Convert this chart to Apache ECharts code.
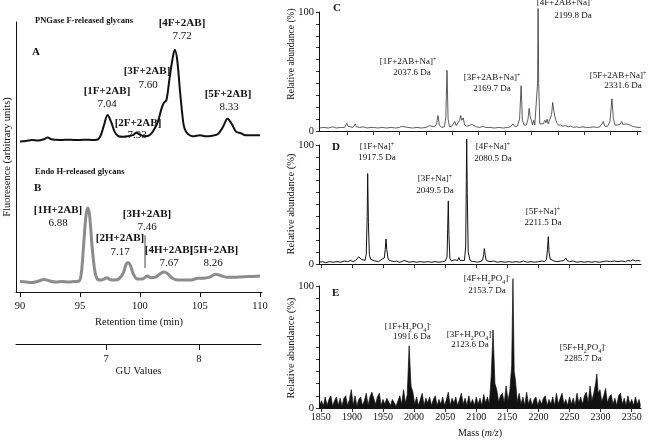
<!DOCTYPE html>
<html><head><meta charset="utf-8">
<script src="https://cdn.jsdelivr.net/npm/echarts@6/dist/echarts.min.js"></script>
<style>html,body{margin:0;padding:0;background:#fff}#c{width:656px;height:442px}</style>
</head><body><div id="c"></div>
<script>
// ---------- Data ----------
// Panel A/B: retention time (min) vs fluorescence (arbitrary units)
const traceA = [[90.0,55.7],[90.5,55.9],[91.0,56.3],[91.5,56.1],[92.0,56.6],[92.3,57.2],[92.6,56.6],[93.0,56.4],[93.5,56.3],[94.0,56.4],[94.5,56.3],[95.0,56.3],[95.5,56.4],[96.0,56.3],[96.4,56.4],[96.7,57.7],[97.0,61.8],[97.3,65.6],[97.6,62.9],[97.9,59.2],[98.2,57.7],[98.6,57.5],[99.0,57.7],[99.4,58.1],[99.7,59.0],[100.0,58.3],[100.4,57.7],[100.8,58.1],[101.1,59.6],[101.5,63.2],[101.8,68.0],[102.0,70.2],[102.2,71.0],[102.45,78.7],[102.7,86.0],[102.9,89.7],[103.1,86.0],[103.3,76.1],[103.5,66.9],[103.7,60.7],[104.0,58.5],[104.4,57.7],[105.0,58.1],[105.5,57.7],[106.0,57.9],[106.5,58.5],[106.9,61.0],[107.3,64.2],[107.7,61.8],[108.0,59.4],[108.4,58.8],[108.8,58.1],[109.3,58.1],[110.0,58.1]];
const traceB = [[90.0,3.9],[90.5,3.7],[91.0,3.5],[91.5,4.0],[92.0,4.6],[92.4,4.2],[93.0,3.7],[93.5,3.9],[94.0,3.7],[94.5,3.9],[94.9,4.0],[95.1,6.6],[95.3,17.3],[95.5,28.3],[95.65,31.1],[95.8,28.3],[96.0,17.3],[96.2,8.8],[96.4,5.1],[96.7,4.4],[97.0,4.8],[97.25,5.3],[97.5,4.6],[97.9,4.4],[98.3,5.1],[98.6,7.0],[98.85,10.3],[99.0,10.8],[99.2,9.9],[99.45,6.6],[99.8,4.8],[100.2,4.8],[100.6,5.9],[100.9,5.3],[101.3,5.5],[101.7,6.8],[102.0,7.4],[102.3,6.8],[102.7,5.1],[103.2,4.4],[103.8,4.4],[104.3,4.4],[104.8,5.1],[105.3,5.1],[105.8,5.5],[106.3,6.6],[106.7,6.1],[107.2,5.5],[108.0,5.5],[109.0,5.7],[110.0,5.9]];
const markerB = [[100.42,8.9],[100.42,21.0]];
const rtTicks = [90,95,100,105,110];
const guTicks = [7,8];

// Panel C/D/E: mass (m/z) vs relative abundance (%)
const specC = [[1810,2.5],[1818,3],[1826,2.5],[1834,3.5],[1840,2.5],[1848,3],[1855,3],[1857,4.5],[1859,6.5],[1861,4],[1864,3],[1870,3],[1872,4.5],[1874,6],[1876,3.5],[1882,3],[1888,3.5],[1895,2.5],[1902,3],[1904,4],[1906,3],[1914,2.5],[1922,3],[1930,2.5],[1938,3],[1946,2.5],[1953,3],[1957,4],[1960,2.5],[1968,3],[1976,2.5],[1984,3],[1992,2.5],[2000,3],[2006,4.5],[2009,3],[2015,3.5],[2019,6],[2021.5,13],[2024,5],[2028,3],[2033,3.5],[2035.5,12],[2037.6,51],[2039.5,10],[2042,3.5],[2046,4],[2049,5.5],[2051.5,8],[2054,4.5],[2057,4],[2060,9],[2062,13],[2064,9],[2066.5,11],[2069,5],[2073,4],[2077,4.5],[2082,5.5],[2085,4],[2090,3.5],[2096,3],[2102,4],[2106,3],[2114,3],[2122,2.5],[2130,3],[2138,2.5],[2146,3],[2151,3.5],[2155,6],[2158,4],[2163,4],[2167,10],[2169.7,38],[2172,9],[2175,5],[2179,5],[2182,10],[2184,19],[2186,12],[2188,9],[2190,5],[2192,9],[2194,5],[2197,6],[2199,40],[2200,103],[2201,40],[2203,6],[2206,5],[2209,6],[2212,9],[2214,7],[2216,10],[2218,6],[2221,7],[2224,14],[2226,24],[2228,17],[2230,12],[2233,7],[2236,5],[2240,5],[2244,4],[2249,4.5],[2254,3.5],[2258,4],[2263,3],[2268,3.5],[2274,3],[2280,3.5],[2286,3],[2292,3],[2298,3.5],[2304,3],[2310,3.5],[2314,6],[2316,8],[2319,4],[2324,4],[2328,8],[2331.6,27],[2334,11],[2337,5],[2341,5],[2346,5.5],[2349,8],[2351,5.5],[2354,5],[2357,6],[2360,7.5],[2362,5.5],[2365,6.5],[2368,4],[2372,3.5],[2378,3],[2383,3]];
const specD = [[1847,1.5],[1853,2],[1858,1],[1864,2],[1870,1.5],[1876,2],[1882,1.5],[1888,2.5],[1893,2],[1898,3],[1902,2],[1906,3],[1909,4],[1911,6],[1913,7.5],[1915,4],[1918,3],[1921,3],[1923,8],[1924.5,40],[1925.3,76],[1926.5,35],[1928,8],[1930,4],[1933,3],[1937,2.5],[1940,3.5],[1943,2],[1946,3],[1948,4],[1950,3],[1952,5],[1953.5,12],[1954.8,21],[1956,12],[1958,5],[1960,3],[1964,2.5],[1968,2],[1972,2.5],[1976,1.5],[1980,2],[1984,3],[1987,2],[1992,1.5],[1998,2],[2004,1.5],[2010,2],[2016,1.5],[2022,2],[2028,1.5],[2034,2],[2040,1.5],[2046,2],[2050,2.5],[2053,6],[2054,30],[2055,53],[2056,25],[2057.5,5],[2060,2.5],[2064,3.5],[2067,2],[2070,3],[2072,5.5],[2074,3],[2077,2],[2081,3],[2083,15],[2084,70],[2084.6,105],[2085.5,60],[2087,10],[2090,3],[2094,2],[2098,2],[2102,1.5],[2106,2],[2110,3],[2112,8],[2113,13],[2114.5,7],[2116,3],[2119,4],[2122,2],[2128,2.5],[2134,1.5],[2140,2],[2143,3],[2146,1.5],[2152,2],[2158,1.5],[2164,2],[2170,1.5],[2176,2.5],[2182,1.5],[2188,2],[2194,1.5],[2200,2],[2206,2.5],[2210,2],[2213,4],[2214.5,12],[2215.9,23],[2217,10],[2219,4],[2222,3],[2225,2.5],[2230,2],[2236,2.5],[2241,3],[2244,5],[2246,3],[2250,2],[2256,2.5],[2262,1.5],[2268,2],[2274,1.5],[2280,2],[2286,1.5],[2292,2],[2298,1.5],[2304,2],[2310,2.5],[2316,2],[2322,2.5],[2328,2],[2334,2.5],[2340,2],[2344,3],[2348,2.5],[2352,3.5],[2356,2.5],[2360,3],[2364,2.5]];
const specE = [[1848,2],[1851,6],[1854,1.5],[1857,9],[1860,2],[1863,7],[1866,10],[1869,1.5],[1872,6],[1875,9],[1878,2],[1881,8],[1884,1.5],[1887,8],[1890,10],[1893,2],[1896,7],[1899,15],[1902,2],[1905,10],[1908,1.5],[1911,7],[1914,9],[1917,2],[1920,6],[1923,12],[1926,2],[1929,9],[1932,13],[1935,14],[1938,3],[1941,9],[1944,12],[1947,2],[1950,7],[1953,3],[1956,8],[1959,9],[1962,2],[1965,7],[1968,8],[1971,1.5],[1974,6],[1977,10],[1980,3],[1983,15],[1986,4],[1989,11],[1992,51],[1995,18],[1998,13],[2001,3],[2004,9],[2007,2],[2010,7],[2013,12],[2016,2],[2019,8],[2022,4],[2025,9],[2028,2],[2031,7],[2034,10],[2037,2],[2040,7],[2043,3],[2046,9],[2049,2],[2052,7],[2055,13],[2058,2],[2061,8],[2064,4],[2067,9],[2070,2],[2073,7],[2076,12],[2079,3],[2082,8],[2085,2],[2088,10],[2091,3],[2094,7],[2097,2],[2100,9],[2103,3],[2106,8],[2109,2],[2112,11],[2115,4],[2118,9],[2121,3],[2124,26],[2127,64],[2130,20],[2133,15],[2136,5],[2139,10],[2142,12],[2145,4],[2148,18],[2151,6],[2154,14],[2157,35],[2159,106],[2161,30],[2163,23],[2166,5],[2169,12],[2172,3],[2175,9],[2178,2],[2181,13],[2184,3],[2187,8],[2190,2],[2193,7],[2196,9],[2199,2],[2202,7],[2205,3],[2208,8],[2211,10],[2214,2],[2217,7],[2220,3],[2223,9],[2226,2],[2229,12],[2232,3],[2235,8],[2238,12],[2241,3],[2244,7],[2247,2],[2250,9],[2253,3],[2256,8],[2259,2],[2262,12],[2265,4],[2268,9],[2271,3],[2274,10],[2277,13],[2280,4],[2283,18],[2286,6],[2289,12],[2292,20],[2294,28],[2296,12],[2299,15],[2302,5],[2305,10],[2308,16],[2311,4],[2314,9],[2317,11],[2320,3],[2323,8],[2326,2],[2329,10],[2332,12],[2335,3],[2338,8],[2341,2],[2344,10],[2347,3],[2350,7],[2353,2],[2356,9],[2359,3],[2362,7],[2364,2]];
const cTicks = [1859,1906,1953,2000,2047,2094,2141,2188,2235,2282,2329,2376];
const massTicks = [1850,1900,1950,2000,2050,2100,2150,2200,2250,2300,2350];

// ---------- Chart ----------
const FF = '"Liberation Serif", "DejaVu Serif", serif';
const chart = echarts.init(document.getElementById('c'), null, {renderer: 'canvas'});
const axisLineBlack = {show: true, lineStyle: {color: '#111', width: 1}};

function rightY(grid) {
  return {
    gridIndex: grid, type: 'value', min: 0, max: 100, interval: 10,
    axisLine: axisLineBlack,
    axisTick: {show: true, length: 3, lineStyle: {color: '#333'}},
    axisLabel: {fontFamily: FF, fontSize: 10.5, color: '#111', margin: 5,
      formatter: v => (v === 0 || v === 100) ? String(v) : ''},
    splitLine: {show: false}
  };
}
function massX(grid, min, max, ticks, labels) {
  return {
    gridIndex: grid, type: 'value', min: min, max: max,
    axisLine: axisLineBlack,
    axisTick: {show: true, length: 4, customValues: ticks, lineStyle: {color: '#333'}},
    axisLabel: labels ? {show: true, customValues: ticks, fontFamily: FF, fontSize: 10, color: '#111', margin: 4,
      formatter: v => String(v)} : {show: false},
    splitLine: {show: false}
  };
}

const T = (text, x, y, opt) => {
  opt = opt || {};
  return {
    type: 'text', silent: true,
    style: {
      text: text, x: x, y: y,
      align: opt.align || 'center', verticalAlign: 'middle',
      fontFamily: FF, fontSize: opt.size || 9, fontWeight: opt.bold ? 'bold' : 'normal',
      fill: '#111', lineHeight: 12,
      rich: {
        sup: {fontSize: 6, verticalAlign: 'top', lineHeight: 12, fontFamily: FF},
        sub: {fontSize: 6, verticalAlign: 'bottom', lineHeight: 10, fontFamily: FF}
      }
    }
  };
};
const V = (text, x, y, size) => ({
  type: 'text', silent: true, x: x, y: y, rotation: Math.PI / 2,
  style: {text: text, x: 0, y: 0, align: 'center', verticalAlign: 'middle',
    fontFamily: FF, fontSize: size, fill: '#111'}
});
const B11 = {bold: true, size: 11};
const N11 = {size: 11};

const texts = [
  T('PNGase F-released glycans', 35, 21, {bold: true, size: 8.5, align: 'left'}),
  T('A', 32, 52, {bold: true, size: 11, align: 'left'}),
  T('[4F+2AB]', 182, 23, B11), T('7.72', 182, 36, N11),
  T('[3F+2AB]', 147, 71, B11), T('7.60', 148, 85, N11),
  T('[1F+2AB]', 107, 91, B11), T('7.04', 107, 104, N11),
  T('[2F+2AB]', 138, 123, B11), T('7.33', 137, 135, N11),
  T('[5F+2AB]', 228, 94, B11), T('8.33', 229, 107, N11),
  T('Endo H-released glycans', 35, 172, {bold: true, size: 8.5, align: 'left'}),
  T('B', 34, 188, {bold: true, size: 11, align: 'left'}),
  T('[1H+2AB]', 58, 210, B11), T('6.88', 58, 223, N11),
  T('[3H+2AB]', 147, 214, B11), T('7.46', 147, 227, N11),
  T('[2H+2AB]', 120, 238, B11), T('7.17', 120, 252, N11),
  T('[4H+2AB]', 169, 250, B11), T('7.67', 169, 263, N11),
  T('[5H+2AB]', 214, 250, B11), T('8.26', 213, 263, N11),

  V('Relative abundance (%)', 291, 54, 9.5),
  V('Relative abundance (%)', 291, 204, 10.5),
  V('Relative abundance (%)', 291, 348, 10.5),

  T('C', 333, 8, {bold: true, size: 11, align: 'left'}),
  T('[1F+2AB+Na]{sup|+}', 408, 62), T('2037.6 Da', 412, 73),
  T('[3F+2AB+Na]{sup|+}', 492, 78), T('2169.7 Da', 492, 89),
  T('[4F+2AB+Na]{sup|+}', 565, 3), T('2199.8 Da', 573, 16),
  T('[5F+2AB+Na]{sup|+}', 618, 76), T('2331.6 Da', 623, 86),

  T('D', 332, 147, {bold: true, size: 11, align: 'left'}),
  T('[1F+Na]{sup|+}', 377, 147), T('1917.5 Da', 377, 158),
  T('[3F+Na]{sup|+}', 435, 179), T('2049.5 Da', 435, 191),
  T('[4F+Na]{sup|+}', 493, 147), T('2080.5 Da', 493, 159),
  T('[5F+Na]{sup|+}', 543, 212), T('2211.5 Da', 543, 223),

  T('E', 332, 293, {bold: true, size: 11, align: 'left'}),
  T('[4F+H{sub|2}PO{sub|4}]{sup|-}', 487, 279), T('2153.7 Da', 487, 291),
  T('[1F+H{sub|2}PO{sub|4}]{sup|-}', 408, 327), T('1991.6 Da', 412, 337),
  T('[3F+H{sub|2}PO{sub|4}]{sup|-}', 470, 335), T('2123.6 Da', 470, 345),
  T('[5F+H{sub|2}PO{sub|4}]{sup|-}', 583, 348), T('2285.7 Da', 583, 359)
];

const option = {
  animation: false,
  backgroundColor: '#fff',
  grid: [
    {left: 16, top: 22, width: 246, height: 270},
    {left: 16, top: 343, width: 245, height: 1},
    {left: 319, top: 12, width: 322, height: 119},
    {left: 319, top: 145, width: 322, height: 119},
    {left: 319, top: 286, width: 322, height: 122}
  ],
  xAxis: [
    {gridIndex: 0, type: 'value', min: 89.667, max: 110.167,
     axisLine: axisLineBlack,
     axisTick: {show: true, length: 5, customValues: rtTicks, lineStyle: {color: '#111'}},
     axisLabel: {customValues: rtTicks, fontFamily: FF, fontSize: 10.5, color: '#111', margin: 9},
     splitLine: {show: false},
     name: 'Retention time (min)', nameLocation: 'middle', nameGap: 25,
     nameTextStyle: {fontFamily: FF, fontSize: 10.5, color: '#111'}},
    {gridIndex: 1, type: 'value', min: 6.032, max: 8.667, position: 'bottom',
     axisLine: axisLineBlack,
     axisTick: {show: true, length: 6, customValues: guTicks, lineStyle: {color: '#111'}},
     axisLabel: {customValues: guTicks, fontFamily: FF, fontSize: 10.5, color: '#111', margin: 10},
     splitLine: {show: false},
     name: 'GU Values', nameLocation: 'middle', nameGap: 22,
     nameTextStyle: {fontFamily: FF, fontSize: 10.5, color: '#111'}},
    massX(2, 1809.4, 2383.4, cTicks, false),
    massX(3, 1847, 2365, massTicks, false),
    Object.assign(massX(4, 1847, 2365, massTicks, true), {
      name: 'Mass ({i|m/z})', nameLocation: 'middle', nameGap: 20,
      nameTextStyle: {fontFamily: FF, fontSize: 10, color: '#111',
        rich: {i: {fontFamily: FF, fontSize: 10, fontStyle: 'italic', color: '#111'}}}
    })
  ],
  yAxis: [
    {gridIndex: 0, type: 'value', min: 0, max: 100,
     axisLine: axisLineBlack, axisTick: {show: false}, axisLabel: {show: false}, splitLine: {show: false},
     name: 'Fluoresence (arbitrary units)', nameLocation: 'middle', nameGap: 3,
     nameTextStyle: {fontFamily: FF, fontSize: 10.5, color: '#111'}},
    {gridIndex: 1, type: 'value', show: false, min: 0, max: 1},
    rightY(2), rightY(3), rightY(4)
  ],
  graphic: texts,
  series: [
    {type: 'line', xAxisIndex: 0, yAxisIndex: 0, data: traceA, showSymbol: false, smooth: 0.35,
     lineStyle: {color: '#111', width: 2}, silent: true},
    {type: 'line', xAxisIndex: 0, yAxisIndex: 0, data: traceB, showSymbol: false, smooth: 0.35,
     lineStyle: {color: '#8c8c8c', width: 3}, silent: true},
    {type: 'line', xAxisIndex: 0, yAxisIndex: 0, data: markerB, showSymbol: false,
     lineStyle: {color: '#444', width: 1}, silent: true},
    {type: 'line', xAxisIndex: 2, yAxisIndex: 2, data: specC, showSymbol: false, clip: false,
     lineStyle: {color: '#333', width: 0.8}, silent: true},
    {type: 'line', xAxisIndex: 3, yAxisIndex: 3, data: specD, showSymbol: false, clip: false,
     lineStyle: {color: '#111', width: 1}, silent: true},
    {type: 'line', xAxisIndex: 4, yAxisIndex: 4, data: specE, showSymbol: false, clip: false,
     lineStyle: {color: '#111', width: 0.7}, areaStyle: {color: '#111', opacity: 1}, silent: true}
  ]
};
chart.setOption(option);
</script>
</body></html>
